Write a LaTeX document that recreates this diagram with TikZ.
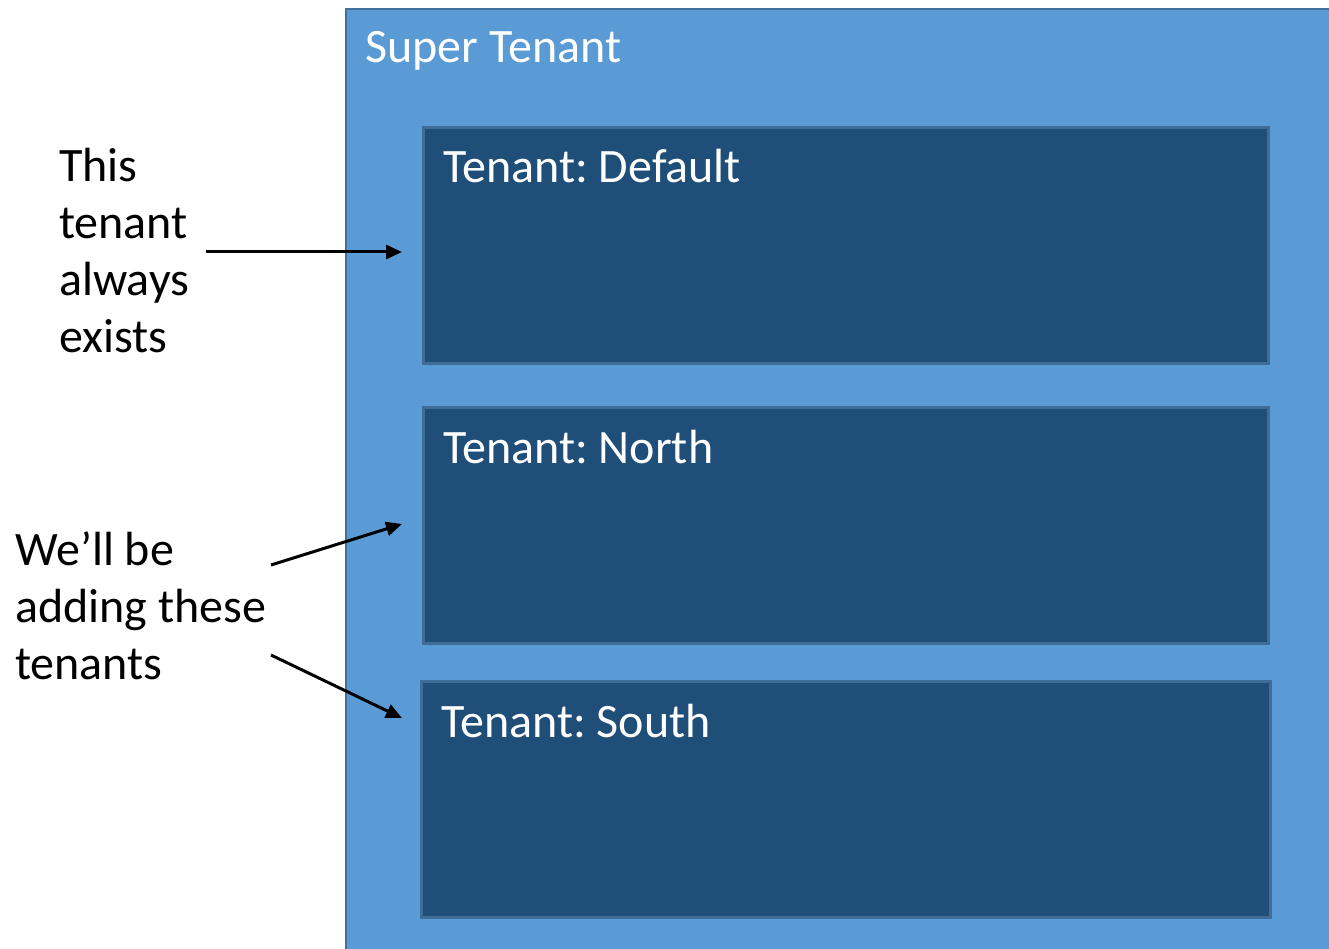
\documentclass[tikz,border=0pt]{standalone}
\usepackage{fontspec}
\setmainfont{Carlito}
\usetikzlibrary{arrows.meta,calc}
\definecolor{outerfill}{HTML}{5B9BD5}
\definecolor{outerline}{HTML}{41719C}
\definecolor{innerfill}{HTML}{1F4E79}
\definecolor{innerline}{HTML}{3F6D98}
\tikzset{
  outerbox/.style={draw=outerline, line width=2pt, fill=outerfill, anchor=north west, inner sep=0pt},
  tenantbox/.style={draw=innerline, line width=3pt, fill=innerfill, anchor=north west, inner sep=0pt, minimum width=845pt, minimum height=236pt},
  boxlabel/.style={text=white, anchor=base west, inner sep=0pt, font=\fontsize{48}{57}\selectfont\frenchspacing},
  sidelabel/.style={text=black, anchor=north west, inner sep=0pt, align=left, font=\fontsize{48}{57}\selectfont\frenchspacing},
  pointer/.style={line width=3pt, -{Triangle[length=16pt,width=14pt]}}
}
\begin{document}
\begin{tikzpicture}[x=1pt,y=-1pt]
\useasboundingbox (0,0) rectangle (1329,949);
\node[outerbox, minimum width=1010pt, minimum height=960pt] (sup) at (345,8) {};
\node[boxlabel] (suplab) at (365,63) {Super Tenant};
\node[tenantbox] (def) at (422,126) {};
\node[tenantbox] (nor) at (422,406) {};
\node[tenantbox, minimum width=849pt] (sou) at (420,680) {};
\node[boxlabel] (deflab) at (443,183) {Tenant: Default};
\node[boxlabel] (norlab) at (443,463) {Tenant: North};
\node[boxlabel] (soulab) at (441,737) {Tenant: South};
\node[sidelabel] (always) at (59,148) {This\\tenant\\always\\exists};
\node[sidelabel] (adding) at (15,531) {We’ll be\\adding these\\tenants};
\coordinate (a1s) at (206,252);
\coordinate (a1e) at ($(def.west |- a1s)+(-20,0)$);
\coordinate (a2s) at (271,565);
\coordinate (a2e) at (402,524);
\coordinate (a3s) at (271,655);
\coordinate (a3e) at (402,718);
\draw[pointer] (a1s) -- (a1e);
\draw[pointer] (a2s) -- (a2e);
\draw[pointer] (a3s) -- (a3e);
\end{tikzpicture}
\end{document}
